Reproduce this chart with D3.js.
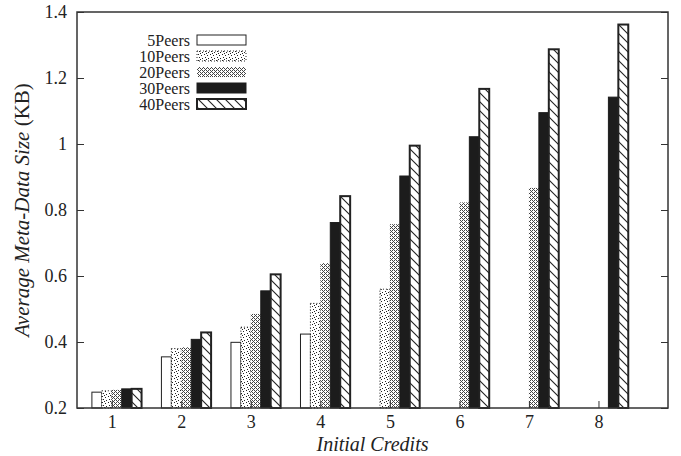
<!DOCTYPE html>
<html><head><meta charset="utf-8">
<script src="https://cdn.jsdelivr.net/npm/d3@7"></script>
<style>
body{margin:0;background:#fff;}
text{font-family:"Liberation Serif","Times New Roman",serif;fill:#222;}
</style></head>
<body>
<svg id="chart" width="681" height="456"></svg>
<script>
const categories = [1,2,3,4,5,6,7,8];
const seriesNames = ["5Peers","10Peers","20Peers","30Peers","40Peers"];
const peers5  = [0.248, 0.355, 0.399, 0.424, null,  null,  null,  null];
const peers10 = [0.252, 0.380, 0.445, 0.517, 0.560, null,  null,  null];
const peers20 = [0.255, 0.384, 0.485, 0.639, 0.757, 0.823, 0.867, null];
const peers30 = [0.258, 0.408, 0.555, 0.762, 0.903, 1.022, 1.095, 1.142];
const peers40 = [0.258, 0.429, 0.605, 0.842, 0.995, 1.167, 1.287, 1.362];
const yTicks = [0.2,0.4,0.6,0.8,1,1.2,1.4];
const seriesValues = [peers5, peers10, peers20, peers30, peers40];

const svg = d3.select("#chart");
const L=77, R=668, T=12, B=408;
const x = d3.scaleLinear().domain([0.5, 9]).range([L, R]);
const y = d3.scaleLinear().domain([0.2, 1.4]).range([B, T]);
const bw = 1/7;

const defs = svg.append("defs");
// 10Peers sparse dots
const p10 = defs.append("pattern").attr("id","p10").attr("patternUnits","userSpaceOnUse").attr("width",6).attr("height",6);
p10.append("rect").attr("width",6).attr("height",6).attr("fill","#fff");
[[0,0],[3,1],[1,3],[4,4],[2,5]].forEach(([a,b])=>p10.append("rect").attr("x",a).attr("y",b).attr("width",1).attr("height",1).attr("fill","#222"));
// 20Peers denser dots
const p20 = defs.append("pattern").attr("id","p20").attr("patternUnits","userSpaceOnUse").attr("width",4).attr("height",4);
p20.append("rect").attr("width",4).attr("height",4).attr("fill","#fff");
[[0,0],[2,0],[1,1],[0,2],[3,3],[2,2]].forEach(([a,b])=>p20.append("rect").attr("x",a).attr("y",b).attr("width",1).attr("height",1).attr("fill","#444"));
// 40Peers hatch
const p40 = defs.append("pattern").attr("id","p40").attr("patternUnits","userSpaceOnUse").attr("width",9).attr("height",9);
p40.append("rect").attr("width",9).attr("height",9).attr("fill","#fff");
p40.append("path").attr("d","M-1,-1 L10,10 M-1,8 L1,10 M8,-1 L10,1").attr("stroke","#222").attr("stroke-width",1.1);

const fills = ["#fff","url(#p10)","url(#p20)","#1c1c1c","url(#p40)"];
const strokes = ["#222","#222","none","#1c1c1c","#222"];
const sw = [1,1,0,1,2];
const dash = [null,"1,2",null,null,null];

// bars
seriesValues.forEach((vals, j) => {
  svg.append("g").selectAll("rect").data(categories.map((c,i)=>({c, v: vals[i]})).filter(d=>d.v!=null))
    .join("rect")
    .attr("x", d => x(d.c + (j-2)*bw))
    .attr("width", d => x(d.c + (j-1)*bw) - x(d.c + (j-2)*bw))
    .attr("y", d => y(d.v))
    .attr("height", d => y(0.2) - y(d.v))
    .attr("fill", fills[j])
    .attr("stroke", strokes[j])
    .attr("stroke-width", sw[j])
    .attr("stroke-dasharray", dash[j]);
});

// axes
const axC = "#333";
svg.append("rect").attr("x",L).attr("y",T).attr("width",R-L).attr("height",B-T)
  .attr("fill","none").attr("stroke",axC).attr("stroke-width",1.5);

const yAxis = svg.append("g").attr("transform",`translate(${L},0)`)
  .call(d3.axisLeft(y).tickValues(yTicks).tickSize(-7).tickPadding(10).tickFormat(d=>d3.format("~g")(d)));
const yAxisR = svg.append("g").attr("transform",`translate(${R},0)`)
  .call(d3.axisRight(y).tickValues(yTicks).tickSize(-7).tickFormat(""));
const xAxis = svg.append("g").attr("transform",`translate(0,${B})`)
  .call(d3.axisBottom(x).tickValues(categories).tickSize(-7).tickPadding(7).tickFormat(d3.format("d")));
[yAxis,yAxisR,xAxis].forEach(g=>{
  g.select(".domain").remove();
  g.selectAll("line").attr("stroke",axC).attr("stroke-width",1);
  g.selectAll("text").style("font-family","Liberation Serif").style("font-size","18px").attr("fill","#222");
});

// titles
svg.append("text").attr("x",(L+R)/2).attr("y",451).attr("text-anchor","middle")
  .style("font-size","20px").style("font-style","italic").text("Initial Credits");
const yt = svg.append("text").attr("transform",`translate(29,${(T+B)/2}) rotate(-90)`).attr("text-anchor","middle")
  .style("font-size","21px");
yt.append("tspan").style("font-style","italic").text("Average Meta-Data Size");
yt.append("tspan").text(" (KB)");

// legend
const lg = svg.append("g");
seriesNames.forEach((n,j)=>{
  const yy = 40 + j*16;
  lg.append("text").attr("x",190).attr("y",yy+5.5).attr("text-anchor","end").style("font-size","16px").text(n);
  lg.append("rect").attr("x",197).attr("y",yy-5).attr("width",49).attr("height",10)
    .attr("fill",fills[j]).attr("stroke",strokes[j]==="none"?"none":strokes[j]).attr("stroke-width",sw[j]).attr("stroke-dasharray",dash[j]);
});
</script>
</body></html>
